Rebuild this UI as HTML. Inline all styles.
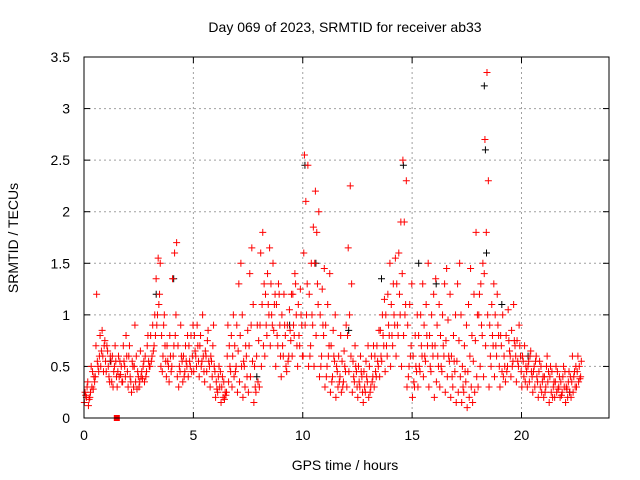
<!DOCTYPE html>
<html><head><meta charset="utf-8"><style>
html,body{margin:0;padding:0;background:#fff;}
svg{display:block;font-family:"Liberation Sans",sans-serif;}
</style></head><body>
<svg id="chart" width="640" height="480" viewBox="0 0 640 480">
<text x="345" y="32" font-size="14" text-anchor="middle" fill="#000">Day 069 of 2023, SRMTID for receiver ab33</text>
<text x="345" y="470" font-size="14" text-anchor="middle" fill="#000">GPS time / hours</text>
<text transform="translate(18,238) rotate(-90)" font-size="14" text-anchor="middle" fill="#000">SRMTID / TECUs</text>
<g id="grid"></g>
<g id="ticks"></g>
<g id="black"></g>
<g id="red"></g>
<rect x="84" y="57" width="525" height="361" fill="none" stroke="#000" stroke-width="1"/>
</svg>
<script>
const xTicks=[0,5,10,15,20];
const yTicks=[0,0.5,1,1.5,2,2.5,3,3.5];
const yTickLabels=["0","0.5","1","1.5","2","2.5","3","3.5"];
const binStarts=[0,0.25,0.5,0.75,1,1.25,1.5,1.75,2,2.25,2.5,2.75,3,3.25,3.5,3.75,4,4.25,4.5,4.75,5,5.25,5.5,5.75,6,6.25,6.5,6.75,7,7.25,7.5,7.75,8,8.25,8.5,8.75,9,9.25,9.5,9.75,10,10.25,10.5,10.75,11,11.25,11.5,11.75,12,12.25,12.5,12.75,13,13.25,13.5,13.75,14,14.25,14.5,14.75,15,15.25,15.5,15.75,16,16.25,16.5,16.75,17,17.25,17.5,17.75,18,18.25,18.5,18.75,19,19.25,19.5,19.75,20,20.25,20.5,20.75,21,21.25,21.5,21.75,22,22.25,22.5];
const redValues=[
[.15,.2,.12,.25,.3,.18,.22,.35],[.2,.3,.4,.25,.45,.35,.5,.28],[.4,.55,.6,.7,.5,.8,1.2,.45],[.5,.6,.75,.65,.45,.55,.85,.7],
[.45,.5,.6,.7,.4,.55,.65,.35],[.35,.45,.55,.6,.5,.4,.3,.7],[.3,.4,.5,.45,.55,.35,.6,.42],[.35,.5,.6,.7,.4,.45,.55,.8],
[.3,.4,.55,.6,.35,.5,.7,.25],[.3,.35,.45,.5,.6,.4,.9,.28],[.3,.4,.5,.35,.45,.55,.65,.38],[.35,.45,.55,.6,.7,.5,.4,.8],
[.5,.6,.7,.8,.9,1.0,.55,.65],[.8,1.0,1.2,1.35,1.55,1.5,.9,1.1],[.5,.6,.7,.8,.9,.55,.45,1.0],[.4,.5,.6,.7,.35,.45,.55,.8],
[.5,.7,1.0,1.35,1.6,1.7,.6,.8],[.4,.5,.6,.7,.45,.55,.3,.9],[.35,.45,.5,.6,.7,.8,.4,.55],[.4,.5,.6,.7,.8,.9,.55,.45],
[.45,.6,.7,.8,.5,.55,.65,.9],[.4,.5,.6,.7,.55,.45,.8,1.0],[.35,.45,.55,.65,.75,.5,.6,.85],[.3,.4,.5,.6,.7,.45,.55,.9],
[.2,.25,.3,.35,.4,.45,.28,.5],[.15,.2,.25,.3,.35,.22,.4,.18],[.25,.35,.45,.6,.7,.8,.9,.5],[.3,.4,.5,.6,.7,.9,1.0,.45],
[.25,.35,.5,.65,.8,1.0,1.3,1.5],[.2,.3,.4,.55,.7,.85,.5,.6],[.25,.4,.55,.7,.9,1.1,1.4,1.65],[.15,.25,.35,.5,.6,.75,.3,.9],
[.3,.5,.7,.9,1.1,1.3,1.6,1.8],[.6,.8,1.0,1.2,1.4,1.65,.9,1.1],[.7,.9,1.1,1.3,1.5,1.2,1.0,.85],[.5,.7,.9,1.1,1.3,.6,.8,1.2],
[.4,.6,.8,1.0,1.2,.5,.7,.9],[.45,.6,.75,.9,1.05,1.2,.55,.85],[.6,.8,1.0,1.2,1.4,.7,.9,1.3],[.5,.7,.9,1.1,1.25,.6,.8,1.0],
[.6,.9,1.3,1.6,2.1,2.45,2.55,1.0],[.5,.7,.9,1.2,1.5,1.85,.6,1.0],[.5,.8,1.1,1.5,1.8,2.0,2.2,1.3],[.4,.6,.8,1.0,1.25,1.45,.5,.9],
[.3,.5,.7,.9,1.1,1.4,.4,.6],[.25,.4,.55,.7,.85,1.0,.35,.6],[.2,.3,.4,.5,.6,.8,.45,.35],[.25,.35,.45,.55,.65,.9,.3,.5],
[.3,.45,.6,.8,1.0,1.3,1.65,2.25],[.25,.35,.45,.55,.7,.3,.4,.5],[.2,.3,.4,.5,.6,.25,.35,.45],[.15,.25,.35,.45,.55,.7,.3,.4],
[.2,.3,.4,.5,.6,.7,.25,.35],[.3,.4,.5,.6,.7,.85,.45,.55],[.4,.55,.7,.85,1.0,1.15,.6,.8],[.45,.6,.8,1.0,1.2,1.5,.7,.9],
[.5,.7,.9,1.1,1.3,1.55,.8,1.0],[.6,.8,1.0,1.3,1.6,1.9,.9,1.2],[.5,.8,1.1,1.4,1.9,2.3,2.5,1.0],[.3,.5,.7,.9,1.1,1.3,.4,.6],
[.2,.3,.45,.6,.8,1.0,.35,.5],[.3,.45,.6,.8,1.0,1.3,.5,.7],[.4,.55,.7,.9,1.1,1.5,.6,.8],[.3,.45,.6,.8,1.0,1.2,.5,.7],
[.2,.35,.5,.7,.9,1.1,1.35,.6],[.3,.45,.6,.8,1.0,1.3,.5,.7],[.25,.4,.55,.75,.95,1.2,1.45,.6],[.2,.3,.45,.6,.8,1.0,.4,.55],
[.15,.25,.4,.55,.75,1.0,1.3,1.5],[.15,.25,.35,.5,.7,.9,.3,.45],[.1,.2,.3,.45,.6,.8,1.1,1.45],[.15,.25,.4,.55,.75,1.0,1.2,1.8],
[.3,.5,.8,1.0,1.3,1.5,1.2,.9],[.4,.7,1.0,1.4,1.8,2.3,2.7,3.35],[.3,.5,.7,.9,1.1,1.3,.6,.8],[.4,.6,.8,1.0,1.2,.5,.7,.9],
[.3,.45,.6,.8,1.0,.5,.7,.4],[.35,.5,.65,.8,1.05,.6,.45,.75],[.4,.55,.7,.85,1.1,.6,.5,.75],[.35,.5,.6,.75,.9,.45,.55,.7],
[.3,.4,.5,.6,.7,.45,.55,.35],[.3,.35,.45,.5,.6,.4,.55,.65],[.25,.3,.4,.45,.55,.35,.5,.6],[.2,.3,.35,.45,.5,.4,.55,.25],
[.2,.3,.35,.4,.5,.45,.25,.6],[.15,.25,.3,.4,.45,.35,.5,.2],[.2,.25,.3,.35,.45,.4,.5,.28],[.2,.25,.3,.35,.4,.45,.22,.5],
[.15,.2,.25,.3,.35,.4,.28,.45],[.2,.25,.3,.35,.4,.5,.6,.45],[.3,.35,.4,.45,.5,.55,.6,.38]];
const blackTimes=[3.3,4.1,10.1,10.6,12.1,14.6,15.3,16.1,18.3,18.35,18.4,19.1,20.3,22.2,1.2,7.9,9.4,13.6];
const blackValues=[1.2,1.35,2.45,1.5,0.85,2.45,1.5,1.3,3.22,2.6,1.6,1.1,0.6,0.25,0.55,0.4,0.9,1.35];
const squareT=1.5, squareV=0;

const X0=84,X1=609,Y0=418,Y1=57,XMAX=24,YMAX=3.5;
const sx=t=>X0+(X1-X0)*t/XMAX;
const sy=v=>Y0-(Y0-Y1)*v/YMAX;
const NS='http://www.w3.org/2000/svg';
function mk(tag,parent,attrs){const e=document.createElementNS(NS,tag);for(const k in attrs)e.setAttribute(k,attrs[k]);parent.appendChild(e);return e;}
const grid=document.getElementById('grid'),ticks=document.getElementById('ticks');
xTicks.forEach(t=>{
  const x=sx(t);
  if(t>0){const g=mk('line',grid,{x1:x,x2:x,y1:Y1,y2:Y0,stroke:'#a0a0a0','stroke-dasharray':'2,3'});
  
  }
  const a=mk('line',ticks,{x1:x,x2:x,y1:Y0,y2:Y0-6,stroke:'#000'});
  
  
  const b=mk('line',ticks,{x1:x,x2:x,y1:Y1,y2:Y1+6,stroke:'#000'});
  
  
  const l=mk('text',ticks,{x:x,y:Y0+22,'font-size':14,'text-anchor':'middle',fill:'#000'});l.textContent=String(t);
  
  
});
yTicks.forEach((v,i)=>{
  const y=sy(v);
  if(v>0&&v<YMAX){const g=mk('line',grid,{x1:X0,x2:X1,y1:y,y2:y,stroke:'#a0a0a0','stroke-dasharray':'2,3'});
  
  }
  const a=mk('line',ticks,{x1:X0,x2:X0+6,y1:y,y2:y,stroke:'#000'});
  
  
  const b=mk('line',ticks,{x1:X1,x2:X1-6,y1:y,y2:y,stroke:'#000'});
  
  
  const l=mk('text',ticks,{x:X0-14,y:y+5,'font-size':14,'text-anchor':'end',fill:'#000'});l.textContent=yTickLabels[i];
  
  
});
function plus(parent,t,v,color){
  const x=sx(t),y=sy(v);
  const p=mk('path',parent,{d:`M${x-3.5},${y}h7M${x},${y-3.5}v7`,stroke:color,'stroke-width':1,fill:'none'});
  return p;
}
const blk=document.getElementById('black'),red=document.getElementById('red');
blackTimes.forEach((t,i)=>{
  const p=plus(blk,t,blackValues[i],'#000');
  
  
});
binStarts.forEach((t0,b)=>{
  const vals=redValues[b];
  vals.forEach((v,i)=>{
    const t=t0+((i*3)%vals.length+0.5)*0.25/vals.length;
    const p=plus(red,t,v,'#ff0000');
    
    
  });
});
const sq=mk('rect',red,{x:sx(squareT)-3,y:sy(squareV)-3,width:6,height:6,fill:'#ff0000'});


</script>
</body></html>
